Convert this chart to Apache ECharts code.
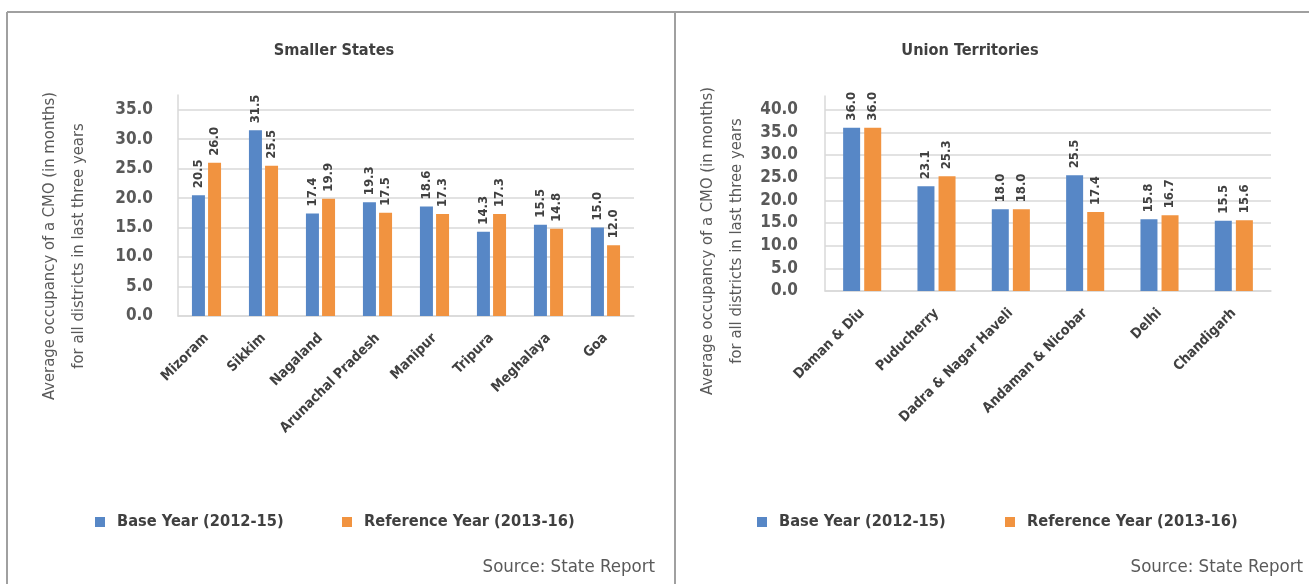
<!DOCTYPE html>
<html><head><meta charset="utf-8">
<script src="https://cdn.jsdelivr.net/npm/echarts@6/dist/echarts.min.js"></script>
<style>html,body{margin:0;padding:0;background:#fff}#c{width:1309px;height:584px}</style>
</head><body><div id="c"></div>
<script>
const FONT = "'Liberation Sans Narrow','DejaVu Sans Condensed','Roboto',sans-serif";
const seriesNames = ['Base Year (2012-15)', 'Reference Year (2013-16)'];
const statesCategories = ['Mizoram', 'Sikkim', 'Nagaland', 'Arunachal Pradesh', 'Manipur', 'Tripura', 'Meghalaya', 'Goa'];
const statesBase = [20.5, 31.5, 17.4, 19.3, 18.6, 14.3, 15.5, 15.0];
const statesRef = [26.0, 25.5, 19.9, 17.5, 17.3, 17.3, 14.8, 12.0];
const utCategories = ['Daman & Diu', 'Puducherry', 'Dadra & Nagar Haveli', 'Andaman & Nicobar', 'Delhi', 'Chandigarh'];
const utBase = [36.0, 23.1, 18.0, 25.5, 15.8, 15.5];
const utRef = [36.0, 25.3, 18.0, 17.4, 16.7, 15.6];
const titles = ['Smaller States', 'Union Territories'];
const yTitle = 'Average occupancy of a CMO (in months)\nfor all districts in last three years';
const sourceText = 'Source: State Report';

const BLUE = '#5787C6', ORANGE = '#F19340', GRID = '#D9D9D9', DARK = '#404040', MID = '#595959';

function xAxis(i, cats, margin) {
  return {
    type: 'category', gridIndex: i, data: cats,
    axisLine: { lineStyle: { color: GRID, width: 1.5 } },
    axisTick: { show: false },
    axisLabel: { interval: 0, rotate: 45, margin: margin, color: DARK, fontFamily: FONT, fontWeight: 'bold', fontSize: 14 }
  };
}
function yAxis(i, max, margin) {
  return {
    type: 'value', gridIndex: i, min: 0, max: max, interval: 5,
    axisLine: { show: true, lineStyle: { color: GRID, width: 1.5 } },
    axisTick: { show: false },
    splitLine: { show: true, showMaxLine: false, lineStyle: { color: GRID, width: 1.5 } },
    axisLabel: { showMaxLabel: false, margin: margin, color: MID, fontFamily: FONT, fontWeight: 'bold', fontSize: 17,
      formatter: v => v.toFixed(1) }
  };
}
const valLabel = {
  show: true, position: 'top', rotate: 90, align: 'left', verticalAlign: 'middle', distance: 7,
  color: DARK, fontFamily: FONT, fontWeight: 'bold', fontSize: 13,
  formatter: p => p.value.toFixed(1)
};
function bar(name, data, color, i, w) {
  return { type: 'bar', name: name, data: data, xAxisIndex: i, yAxisIndex: i, barWidth: w, barGap: '24%',
    itemStyle: { color: color }, label: valLabel };
}
function legend(name, left) {
  return { data: [name], left: left, top: 514, padding: 0, icon: 'rect', itemWidth: 10, itemHeight: 10,
    textStyle: { color: DARK, fontFamily: FONT, fontWeight: 'bold', fontSize: 16.3, padding: [0, 0, 0, 7] } };
}
const chart = echarts.init(document.getElementById('c'));
chart.setOption({
  animation: false,
  textStyle: { fontFamily: FONT },
  title: [
    { text: titles[0], left: 329, top: 38, textAlign: 'center', textStyle: { color: DARK, fontFamily: FONT, fontWeight: 'bold', fontSize: 16.2 } },
    { text: titles[1], left: 965, top: 38, textAlign: 'center', textStyle: { color: DARK, fontFamily: FONT, fontWeight: 'bold', fontSize: 16.2 } }
  ],
  grid: [
    { left: 178, top: 95, width: 456, height: 221, outerBoundsMode: 'none' },
    { left: 825, top: 96, width: 446, height: 195, outerBoundsMode: 'none' }
  ],
  xAxis: [xAxis(0, statesCategories, 20), xAxis(1, utCategories, 20)],
  yAxis: [yAxis(0, 37.5, 25), yAxis(1, 43, 27)],
  legend: [legend(seriesNames[0], 95), legend(seriesNames[1], 342), legend(seriesNames[0], 757), legend(seriesNames[1], 1005)],
  series: [
    bar(seriesNames[0], statesBase, BLUE, 0, 13),
    bar(seriesNames[1], statesRef, ORANGE, 0, 13),
    bar(seriesNames[0], utBase, BLUE, 1, 17),
    bar(seriesNames[1], utRef, ORANGE, 1, 17)
  ],
  graphic: [
    { type: 'line', shape: { x1: 7, y1: 12, x2: 1309, y2: 12 }, style: { stroke: '#A0A0A0', lineWidth: 2 }, silent: true },
    { type: 'line', shape: { x1: 7, y1: 12, x2: 7, y2: 584 }, style: { stroke: '#A0A0A0', lineWidth: 2 }, silent: true },
    { type: 'line', shape: { x1: 675, y1: 12, x2: 675, y2: 584 }, style: { stroke: '#A0A0A0', lineWidth: 2 }, silent: true },
    { type: 'text', x: 64, y: 246, rotation: Math.PI / 2,
      style: { text: yTitle, fill: MID, font: '16.5px ' + FONT, textAlign: 'center', textVerticalAlign: 'middle', lineHeight: 29 } },
    { type: 'text', x: 722, y: 241, rotation: Math.PI / 2,
      style: { text: yTitle, fill: MID, font: '16.5px ' + FONT, textAlign: 'center', textVerticalAlign: 'middle', lineHeight: 29 } },
    { type: 'text', x: 655, y: 567, style: { text: sourceText, fill: MID, font: '18.5px ' + FONT, textAlign: 'right', textVerticalAlign: 'middle' } },
    { type: 'text', x: 1303, y: 567, style: { text: sourceText, fill: MID, font: '18.5px ' + FONT, textAlign: 'right', textVerticalAlign: 'middle' } }
  ]
});
</script></body></html>
